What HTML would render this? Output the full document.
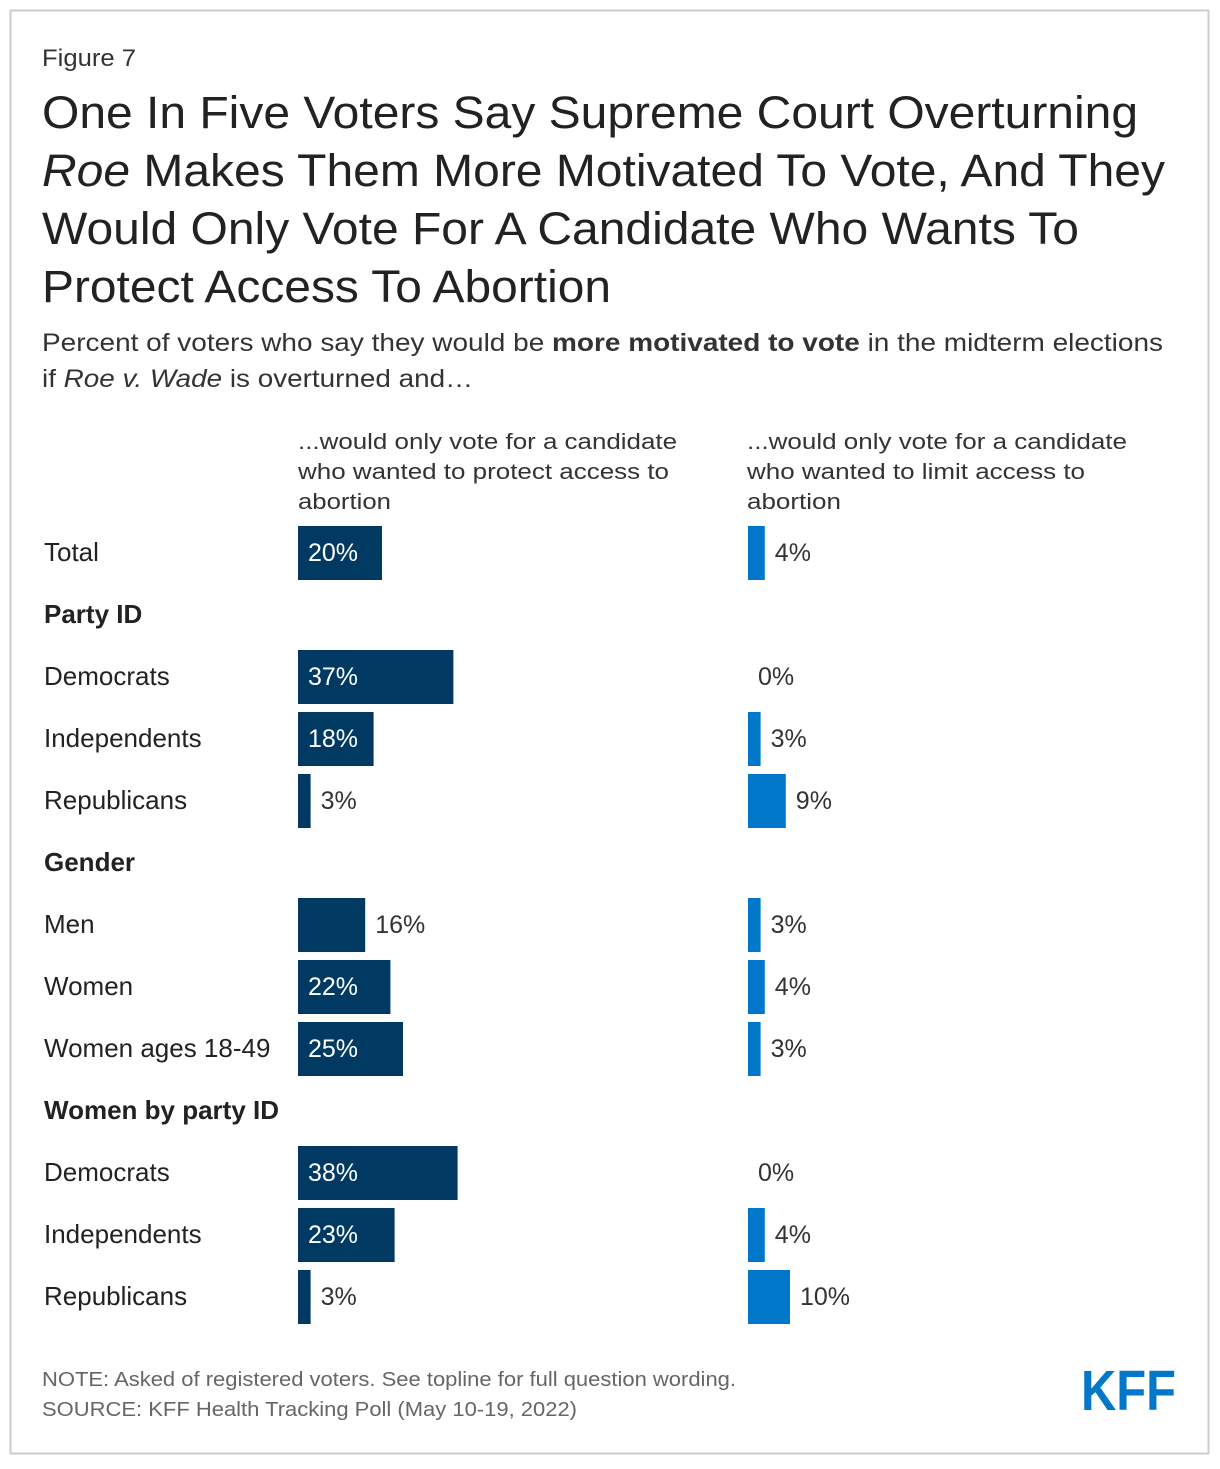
<!DOCTYPE html>
<html><head><meta charset="utf-8"><style>
body{margin:0;background:#fff;}
svg text{font-family:"Liberation Sans",Arial,sans-serif;}
</style></head><body>
<svg id="chart" width="1220" height="1464" viewBox="0 0 1220 1464" xmlns="http://www.w3.org/2000/svg">
<rect x="10.5" y="10.5" width="1198" height="1443" fill="#fff" stroke="#cccccc" stroke-width="2"/>
<text x="42" y="66" font-size="24" fill="#333" textLength="94" lengthAdjust="spacingAndGlyphs">Figure 7</text>
<g font-size="45" fill="#222">
<text x="42" y="128" textLength="1096" lengthAdjust="spacingAndGlyphs">One In Five Voters Say Supreme Court Overturning</text>
<text x="42" y="186" textLength="1123" lengthAdjust="spacingAndGlyphs"><tspan font-style="italic">Roe</tspan> Makes Them More Motivated To Vote, And They</text>
<text x="42" y="244" textLength="1037" lengthAdjust="spacingAndGlyphs">Would Only Vote For A Candidate Who Wants To</text>
<text x="42" y="302" textLength="569" lengthAdjust="spacingAndGlyphs">Protect Access To Abortion</text>
</g>
<g font-size="25" fill="#333">
<text x="42" y="351" textLength="1121" lengthAdjust="spacingAndGlyphs">Percent of voters who say they would be <tspan font-weight="bold">more motivated to vote</tspan> in the midterm elections</text>
<text x="42" y="387" textLength="431" lengthAdjust="spacingAndGlyphs">if <tspan font-style="italic">Roe v. Wade</tspan> is overturned and…</text>
</g>
<g font-size="22" fill="#333">
<text x="298" y="449" textLength="379" lengthAdjust="spacingAndGlyphs">...would only vote for a candidate</text>
<text x="298" y="479" textLength="371" lengthAdjust="spacingAndGlyphs">who wanted to protect access to</text>
<text x="298" y="509" textLength="93" lengthAdjust="spacingAndGlyphs">abortion</text>
</g>
<g font-size="22" fill="#333">
<text x="747" y="449" textLength="380" lengthAdjust="spacingAndGlyphs">...would only vote for a candidate</text>
<text x="747" y="479" textLength="338" lengthAdjust="spacingAndGlyphs">who wanted to limit access to</text>
<text x="747" y="509" textLength="94" lengthAdjust="spacingAndGlyphs">abortion</text>
</g>
<g id="rows"></g>
<g font-size="20" fill="#666">
<text x="42" y="1386" textLength="694" lengthAdjust="spacingAndGlyphs">NOTE: Asked of registered voters. See topline for full question wording.</text>
<text x="42" y="1416" textLength="535" lengthAdjust="spacingAndGlyphs">SOURCE: KFF Health Tracking Poll (May 10-19, 2022)</text>
</g>
<text x="1081" y="1410" font-size="57" font-weight="bold" fill="#0077c8" textLength="95" lengthAdjust="spacingAndGlyphs">KFF</text>
</svg>
<script>
const categories=["Total","Party ID","Democrats","Independents","Republicans","Gender","Men","Women","Women ages 18-49","Women by party ID","Democrats","Independents","Republicans"];
const isHeader=[false,true,false,false,false,true,false,false,false,true,false,false,false];
const protectValues=[20,null,37,18,3,null,16,22,25,null,38,23,3];
const limitValues=[4,null,0,3,9,null,3,4,3,null,0,4,10];
const NS="http://www.w3.org/2000/svg";
const g=document.getElementById('rows');
const rowY=i=>553+62*i;
const scale=v=>v*4.2;
function mk(tag,attrs){const e=document.createElementNS(NS,tag);for(const k in attrs)e.setAttribute(k,attrs[k]);g.appendChild(e);return e;}
function bar(x0,v,color,i,name){
  const cy=rowY(i);
  const w=scale(v);
  if(w>0){const r=mk('rect',{x:x0,y:cy-27,width:w,height:54,fill:color});
    
    }
  const inside=v>=18;
  const t=mk('text',{x:inside?x0+10:x0+w+10,y:cy+8,'font-size':25,fill:inside?'#fff':'#333'});
  t.textContent=v+'%';
  
  
}
categories.forEach((c,i)=>{
  const t=mk('text',{x:44,y:rowY(i)+8,'font-size':26,fill:'#222','font-weight':isHeader[i]?'bold':'normal'});
  t.textContent=c;
  
  
  if(protectValues[i]!==null)bar(298,protectValues[i],'#003a63',i,'protect');
  if(limitValues[i]!==null)bar(748,limitValues[i],'#0077c8',i,'limit');
});
</script>
</body></html>
